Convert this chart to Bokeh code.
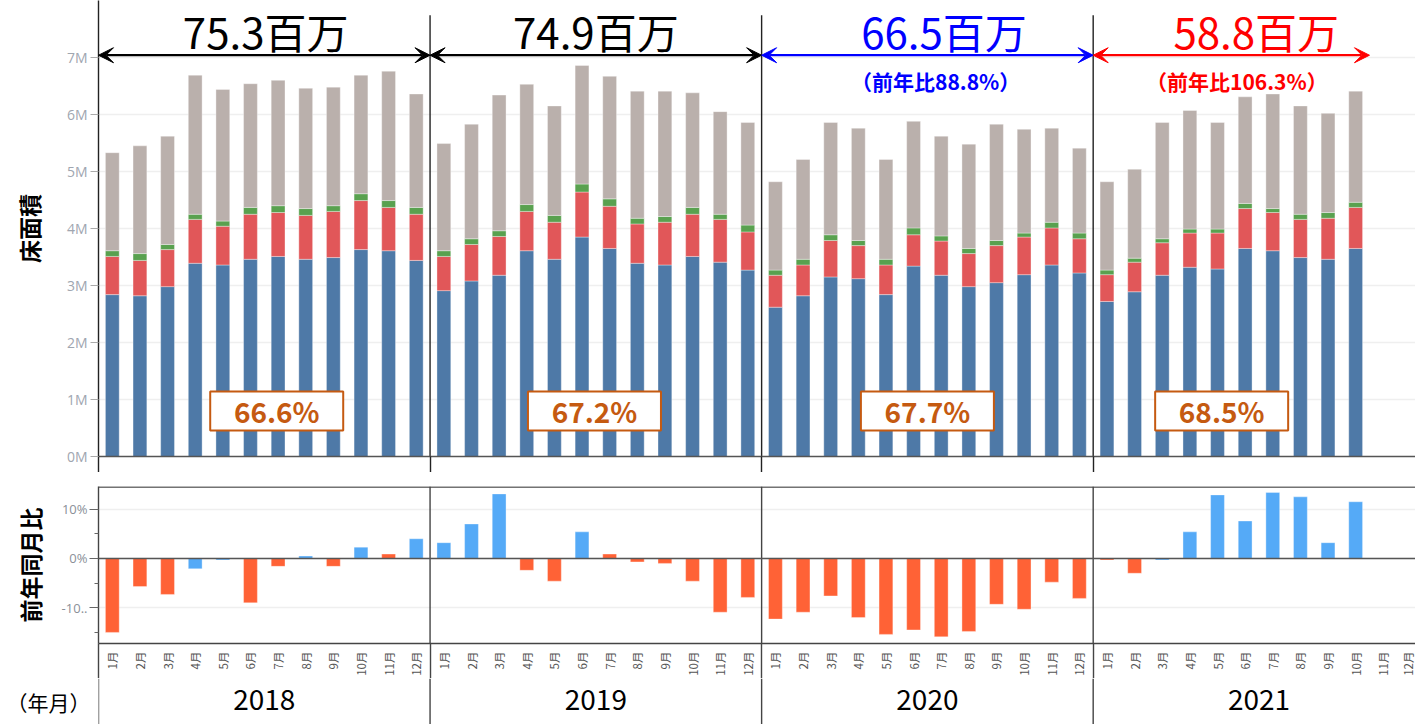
import math
from bokeh.plotting import figure
from bokeh.models import (ColumnDataSource, FixedTicker, Range1d, Span,
                          Arrow, VeeHead, Label, PrintfTickFormatter)
from bokeh.layouts import column
from bokeh.core.properties import value
from bokeh.embed import file_html
from bokeh.resources import INLINE
from bokeh.transform import factor_cmap

# ---------------- data ----------------
years = ["2018", "2019", "2020", "2021"]
month_names = [f"{m}月" for m in range(1, 13)]

# 床面積 (millions), stacked segments, Jan 2018 .. Oct 2021
seg_blue = [2.84, 2.82, 2.98, 3.39, 3.36, 3.46, 3.51, 3.46, 3.49, 3.63, 3.61, 3.44,
            2.91, 3.08, 3.18, 3.61, 3.46, 3.85, 3.65, 3.39, 3.36, 3.51, 3.41, 3.27,
            2.62, 2.82, 3.15, 3.12, 2.84, 3.34, 3.18, 2.98, 3.05, 3.19, 3.36, 3.22,
            2.72, 2.89, 3.18, 3.32, 3.29, 3.65, 3.61, 3.49, 3.46, 3.65]
seg_red = [0.67, 0.62, 0.65, 0.77, 0.68, 0.79, 0.77, 0.77, 0.81, 0.86, 0.76, 0.81,
           0.60, 0.64, 0.68, 0.69, 0.65, 0.79, 0.74, 0.69, 0.75, 0.74, 0.75, 0.67,
           0.56, 0.54, 0.64, 0.58, 0.52, 0.55, 0.60, 0.58, 0.65, 0.66, 0.65, 0.60,
           0.47, 0.52, 0.57, 0.60, 0.63, 0.70, 0.67, 0.67, 0.72, 0.72]
seg_green = [0.10, 0.12, 0.09, 0.09, 0.09, 0.12, 0.12, 0.12, 0.10, 0.12, 0.12, 0.12,
             0.10, 0.10, 0.10, 0.12, 0.12, 0.14, 0.13, 0.10, 0.10, 0.12, 0.09, 0.12,
             0.09, 0.10, 0.10, 0.09, 0.10, 0.12, 0.09, 0.09, 0.09, 0.07, 0.10, 0.10,
             0.08, 0.07, 0.07, 0.07, 0.07, 0.09, 0.07, 0.09, 0.10, 0.09]
seg_grey = [1.72, 1.89, 1.90, 2.44, 2.31, 2.17, 2.20, 2.11, 2.08, 2.08, 2.27, 1.99,
            1.88, 2.01, 2.38, 2.11, 1.92, 2.08, 2.15, 2.23, 2.20, 2.01, 1.80, 1.80,
            1.55, 1.75, 1.97, 1.97, 1.75, 1.87, 1.75, 1.83, 2.04, 1.82, 1.65, 1.49,
            1.55, 1.56, 2.04, 2.08, 1.87, 1.87, 2.01, 1.90, 1.74, 1.95]

# 前年同月比 (%)
yoy_pct = [-15.0, -5.7, -7.3, -2.1, -0.3, -9.0, -1.6, 0.5, -1.6, 2.3, 0.9, 4.0,
           3.2, 7.0, 13.1, -2.4, -4.6, 5.4, 0.9, -0.7, -1.0, -4.6, -10.9, -7.9,
           -12.3, -10.9, -7.6, -12.0, -15.4, -14.5, -15.9, -14.8, -9.3, -10.3, -4.8, -8.1,
           -0.3, -3.0, -0.3, 5.4, 12.9, 7.6, 13.4, 12.5, 3.2, 11.5]
yoy_dir = ["減", "減", "減", "増", "増", "減", "減", "増", "減", "増", "減", "増",
           "増", "増", "増", "減", "減", "増", "減", "減", "減", "減", "減", "減",
           "減", "減", "減", "減", "減", "減", "減", "減", "減", "減", "減", "減",
           "減", "減", "増", "増", "増", "増", "増", "増", "増", "増"]

total_labels = ["75.3百万", "74.9百万", "66.5百万", "58.8百万"]
ratio_labels = ["", "", "（前年比88.8%）", "（前年比106.3%）"]
share_labels = ["66.6%", "67.2%", "67.7%", "68.5%"]
axis_year_month = "（年月）"

# ---------------- styles ----------------
C_BLUE, C_RED, C_GREEN, C_GREY = "#4e79a7", "#e15759", "#59a14f", "#bab0ac"
C_UP, C_DOWN = "#55aaf7", "#ff6236"
C_BOX = "#c55a11"
HEAD_COLORS = ["black", "black", "#0000ff", "#ff0000"]
JP = "Noto Sans CJK JP"
W = 1415
STEP = 27.63          # px per month slot
FL = 98               # frame left (all rows share it)

n_pos = len(years) * 12
n_data = len(seg_blue)
xs = list(range(n_data))
seps = [12 * i - 0.5 for i in range(1, len(years))]
edges = [-0.5] + seps
year_centers = [12 * i + 5.5 for i in range(len(years))]

src = ColumnDataSource(dict(x=xs, blue=seg_blue, red=seg_red, green=seg_green,
                            grey=seg_grey, yoy=yoy_pct, dir=yoy_dir))

XR = Range1d(-0.5, -0.5 + (W - FL) / STEP)

# ---------------- top chart ----------------
top = figure(width=W, height=472, x_range=XR, y_range=Range1d(0, 8.0),
             output_backend="svg", toolbar_location=None,
             min_border_left=FL, min_border_right=0, min_border_top=0, min_border_bottom=16,
             outline_line_color=None, background_fill_color="white", border_fill_color="white")

top.vbar_stack(["blue", "red", "green", "grey"], x="x", width=0.5, source=src,
               color=[C_BLUE, C_RED, C_GREEN, C_GREY], line_color="white", line_alpha=0.35,
               line_width=1)

top.segment(x0=seps, y0=[0] * len(seps), x1=seps, y1=[7.74] * len(seps),
            line_color="#222222", line_width=1.4)

top.xgrid.visible = False
top.ygrid.grid_line_color = "#efefef"
top.ygrid.grid_line_width = 1.5

top.yaxis.ticker = FixedTicker(ticks=list(range(8)))
top.yaxis.formatter = PrintfTickFormatter(format="%dM")
top.yaxis.axis_label = "床面積"
top.yaxis.axis_label_text_font = JP
top.yaxis.axis_label_text_font_style = "bold"
top.yaxis.axis_label_text_font_size = "23px"
top.yaxis.axis_label_text_color = "black"
top.yaxis.axis_label_standoff = 18
top.yaxis.major_label_text_font = "Open Sans"
top.yaxis.major_label_text_font_size = "14px"
top.yaxis.major_label_text_color = "#a0a6b0"
top.yaxis.major_label_standoff = 3
top.yaxis.major_tick_out = 8
top.yaxis.major_tick_in = 0
top.yaxis.major_tick_line_color = "#aaaaaa"
top.yaxis.minor_tick_line_color = None
top.yaxis.axis_line_color = "#222222"
top.yaxis.axis_line_width = 1.4

top.xaxis.ticker = FixedTicker(ticks=[], minor_ticks=edges)
top.xaxis.major_label_text_font_size = "0px"
top.xaxis.major_label_standoff = 0
top.xaxis.major_tick_out = 0
top.xaxis.major_tick_in = 0
top.xaxis.minor_tick_out = 16
top.xaxis.minor_tick_in = 0
top.xaxis.minor_tick_line_color = "#222222"
top.xaxis.minor_tick_line_width = 1.4
top.xaxis.axis_line_color = "#555555"
top.xaxis.axis_line_width = 1.5

# arrows + header texts
head_dx = [0.05, 0.0, 0.6, 0.9]
ratio_dx = [0.0, 0.0, 0.3, 0.2]
box_x = [5.95, 17.45, 29.5, 40.15]
for i, yr in enumerate(years):
    x0 = 12 * i - 0.5
    x1 = min(12 * (i + 1) - 0.5, n_data - 0.5)
    xc = (x0 + x1) / 2
    col = HEAD_COLORS[i]
    top.add_layout(Arrow(x_start=x0, y_start=7.04, x_end=x1, y_end=7.04,
                         line_color=col, line_width=2.2,
                         start=VeeHead(size=15, fill_color=col, line_color=col),
                         end=VeeHead(size=15, fill_color=col, line_color=col)))
    top.add_layout(Label(x=xc + head_dx[i], y=7.47, text=total_labels[i],
                         text_align="center", text_baseline="middle",
                         text_font=JP, text_font_size="42px", text_color=col))
    if ratio_labels[i]:
        top.add_layout(Label(x=xc + ratio_dx[i], y=6.58, text=ratio_labels[i],
                             text_align="center", text_baseline="middle",
                             text_font=JP, text_font_style="bold",
                             text_font_size="21px", text_color=col))
    top.rect(x=[box_x[i]], y=[0.8], width=133, height=39, width_units="screen",
             height_units="screen", fill_color="white", line_color=C_BOX, line_width=2)
    top.add_layout(Label(x=box_x[i], y=0.8, text=share_labels[i], text_align="center",
                         text_baseline="middle", text_font=JP, text_font_style="bold",
                         text_font_size="28px", text_color=C_BOX))

# ---------------- bottom chart ----------------
BB = 35
bot = figure(width=W, height=206, x_range=XR, y_range=Range1d(-17.25, 14.6),
             output_backend="svg", toolbar_location=None,
             min_border_left=FL, min_border_right=0, min_border_top=14, min_border_bottom=BB,
             outline_line_color=None, background_fill_color="white", border_fill_color="white")

bot.vbar(x="x", top="yoy", bottom=0, width=0.5, source=src,
         fill_color=factor_cmap("dir", palette=[C_UP, C_DOWN], factors=["増", "減"]),
         line_color="white", line_alpha=0.35)

bot.add_layout(Span(location=0, dimension="width", line_color="#555555", line_width=1.5))
bot.add_layout(Span(location=14.5, dimension="width", line_color="#444444", line_width=1.5))
bot.segment(x0=seps, y0=[-17.25] * len(seps), x1=seps, y1=[14.6] * len(seps),
            line_color="#444444", line_width=1.4)

bot.xgrid.visible = False
bot.ygrid.grid_line_color = "#efefef"
bot.ygrid.grid_line_width = 1.5

bot.yaxis.ticker = FixedTicker(ticks=[-10, 0, 10], minor_ticks=[-15, -5, 5])
bot.yaxis.major_label_overrides = {-10: "-10..", 0: "0%", 10: "10%"}
bot.yaxis.axis_label = "前年同月比"
bot.yaxis.axis_label_text_font = JP
bot.yaxis.axis_label_text_font_style = "bold"
bot.yaxis.axis_label_text_font_size = "23px"
bot.yaxis.axis_label_text_color = "black"
bot.yaxis.axis_label_standoff = 12
bot.yaxis.major_label_text_font = "Open Sans"
bot.yaxis.major_label_text_font_size = "13px"
bot.yaxis.major_label_text_color = "#8a8f98"
bot.yaxis.major_label_standoff = 2
bot.yaxis.major_tick_out = 9
bot.yaxis.major_tick_in = 0
bot.yaxis.minor_tick_out = 4
bot.yaxis.minor_tick_in = 0
bot.yaxis.major_tick_line_color = "#666666"
bot.yaxis.minor_tick_line_color = "#666666"
bot.yaxis.axis_line_color = "#444444"
bot.yaxis.axis_line_width = 1.4

# month axis: year separators continue below the frame as long minor ticks
bot.xaxis.ticker = FixedTicker(ticks=list(range(n_pos)), minor_ticks=edges)
bot.xaxis.major_label_overrides = {i: month_names[i % 12] for i in range(n_pos)}
bot.xaxis.major_label_orientation = math.pi / 2
bot.xaxis.major_label_text_font = JP
bot.xaxis.major_label_text_font_size = "11.5px"
bot.xaxis.major_label_text_color = "#555555"
bot.xaxis.major_tick_out = 0
bot.xaxis.major_tick_in = 0
bot.xaxis.major_tick_line_color = None
bot.xaxis.minor_tick_out = BB
bot.xaxis.minor_tick_in = 0
bot.xaxis.major_label_standoff = 8 - BB
bot.xaxis.minor_tick_line_color = "#444444"
bot.xaxis.minor_tick_line_width = 1.4
bot.xaxis.axis_line_color = "#444444"
bot.xaxis.axis_line_width = 1.5

# ---------------- year strip ----------------
strip = figure(width=W, height=46, x_range=XR, y_range=Range1d(0, 1),
               output_backend="svg", toolbar_location=None, x_axis_location=None,
               min_border_left=FL, min_border_right=0, min_border_top=0, min_border_bottom=0,
               outline_line_color=None, background_fill_color="white", border_fill_color="white")
strip.grid.visible = False
strip.segment(x0=edges, y0=[0] * len(edges), x1=edges, y1=[1] * len(edges),
              line_color="#444444", line_width=1.4)
strip.text(x=year_centers, y=[0.55] * len(years), text=years, text_align="center",
           text_baseline="middle", text_font=value(JP), text_font_size=value("28px"),
           text_color="black")

strip.yaxis.ticker = FixedTicker(ticks=[])
strip.yaxis.axis_line_color = None
strip.yaxis.major_tick_line_color = None
strip.yaxis.minor_tick_line_color = None
strip.yaxis.major_label_text_font_size = "0px"
strip.yaxis.axis_label = axis_year_month
strip.yaxis.axis_label_orientation = "horizontal"
strip.yaxis.axis_label_standoff = 8
strip.yaxis.axis_label_text_font = JP
strip.yaxis.axis_label_text_font_size = "21px"
strip.yaxis.axis_label_text_font_style = "normal"
strip.yaxis.axis_label_text_color = "black"

layout = column(top, bot, strip, spacing=0)
open("out.html", "w").write(file_html(layout, INLINE))
